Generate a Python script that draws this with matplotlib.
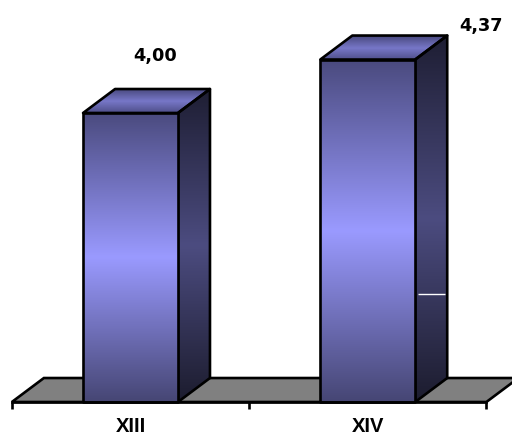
import numpy as np
import matplotlib
matplotlib.use("Agg")
import matplotlib.pyplot as plt
from matplotlib.colors import LinearSegmentedColormap
from matplotlib.patches import Polygon

# data
categories = ["XIII", "XIV"]
values = [4.00, 4.37]
value_labels = ["4,00", "4,37"]

# layout / style
BASE = 2.0
BAR_W = 0.40
DDX, DDY = 0.135, 0.166          # depth offset of the 3D boxes (data units)
label_offsets = [(25, 57), (113, 34)]   # pixel offsets of value labels
EDGE_LW = 1.9
plt.rcParams["font.family"] = ["Liberation Sans", "DejaVu Sans"]

front_cmap = LinearSegmentedColormap.from_list(
    "front", ["#464674", "#9a9aff", "#4a4a7e"])
side_cmap = LinearSegmentedColormap.from_list(
    "side", ["#1c1c2e", "#4c4c80", "#1e1e33"])
top_cmap = LinearSegmentedColormap.from_list(
    "top", ["#4e4e88", "#7777c8", "#4a4a80"])

fig = plt.figure(figsize=(5.12, 4.37), dpi=100)
ax = fig.add_axes([0, 0, 1, 1])
ax.set_facecolor("white")

grad = np.linspace(0, 1, 256).reshape(-1, 1)


def shaded(poly_pts, extent, cmap, z):
    patch = Polygon(poly_pts, closed=True, facecolor="none",
                    edgecolor="black", linewidth=EDGE_LW, zorder=z + 0.5,
                    joinstyle="round")
    ax.add_patch(patch)
    im = ax.imshow(grad, extent=extent, origin="lower", cmap=cmap,
                   aspect="auto", interpolation="bilinear", zorder=z)
    im.set_clip_path(patch)
    return patch


# floor
x_lo, x_hi = -0.5, len(categories) - 0.5
floor = Polygon([(x_lo, BASE), (x_hi, BASE), (x_hi + DDX, BASE + DDY),
                 (x_lo + DDX, BASE + DDY)], closed=True,
                facecolor="#808080", edgecolor="black", linewidth=EDGE_LW,
                zorder=1)
ax.add_patch(floor)

# bars
for i, v in enumerate(values):
    x0, x1 = i - BAR_W / 2, i + BAR_W / 2
    # side face
    shaded([(x1, BASE), (x1 + DDX, BASE + DDY), (x1 + DDX, v + DDY), (x1, v)],
           [x1, x1 + DDX, BASE, v + DDY], side_cmap, 2)
    # top face
    shaded([(x0, v), (x1, v), (x1 + DDX, v + DDY), (x0 + DDX, v + DDY)],
           [x0, x1 + DDX, v, v + DDY], top_cmap, 2)
    # front face
    shaded([(x0, BASE), (x1, BASE), (x1, v), (x0, v)],
           [x0, x1, BASE, v], front_cmap, 3)
    ax.annotate(value_labels[i], xy=(i, v), xytext=label_offsets[i],
                textcoords="offset pixels", ha="center", va="center",
                fontsize=12.8, fontweight="bold", family="DejaVu Sans",
                zorder=5)

# thin highlight seam on the second bar's side face
ax.plot([1 + BAR_W / 2 + 0.012, 1 + BAR_W / 2 + DDX - 0.01], [2.747, 2.747],
        color="white", linewidth=1.0, zorder=4, solid_capstyle="butt")

# category axis along the front edge of the floor
ax.set_xlim(-0.55, 1.608)
ax.set_ylim(1.7578, 4.782)
for s in ["top", "right", "left"]:
    ax.spines[s].set_visible(False)
ax.spines["bottom"].set_position(("data", BASE))
ax.spines["bottom"].set_bounds(x_lo, x_hi)
ax.spines["bottom"].set_linewidth(EDGE_LW)
ax.spines["bottom"].set_zorder(6)
ax.set_yticks([])
ax.set_xticks(np.arange(-0.5, len(categories), 1.0))
ax.set_xticklabels([])
ax.set_xticks(range(len(categories)), minor=True)
ax.set_xticklabels(categories, minor=True, fontsize=14.5, fontweight="bold")
ax.tick_params(axis="x", which="major", direction="out", length=5,
               width=EDGE_LW)
ax.tick_params(axis="x", which="minor", length=0, pad=10.5)

fig.savefig("out.png", dpi=100)
